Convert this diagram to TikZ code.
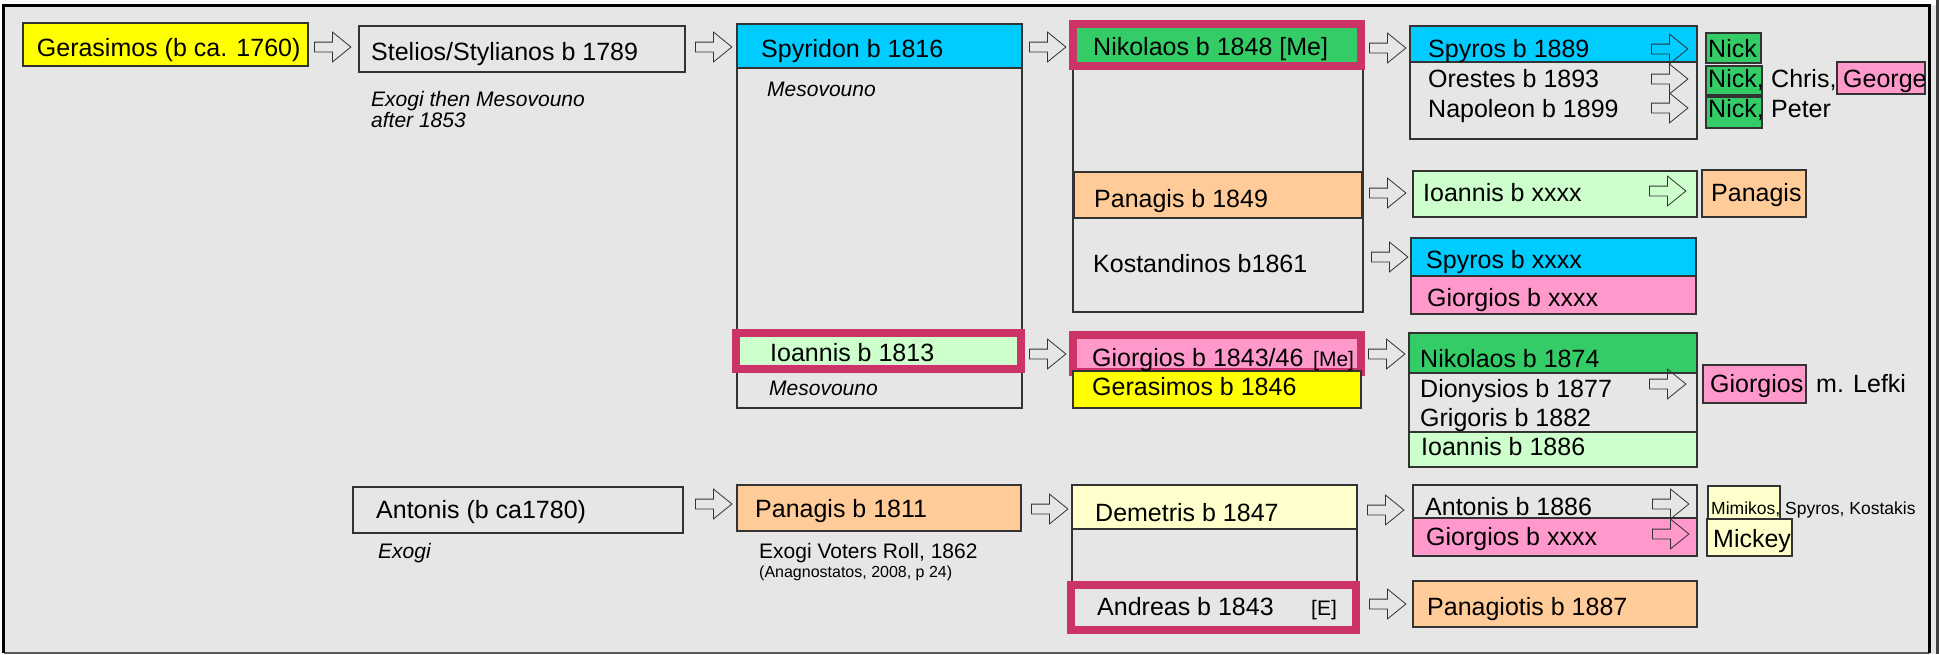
\documentclass[tikz,border=0pt]{standalone}
\usepackage{fontspec}
\setmainfont{Liberation Sans}
\usetikzlibrary{shapes.arrows,fit,calc}
\definecolor{bgc}{HTML}{E6E6E6}
\definecolor{cyanb}{HTML}{00CCFF}
\definecolor{greenb}{HTML}{33CC66}
\definecolor{lgreen}{HTML}{CCFFCC}
\definecolor{peach}{HTML}{FFCC99}
\definecolor{pinkb}{HTML}{FF99CC}
\definecolor{lyellow}{HTML}{FFFFCC}
\definecolor{yellowb}{HTML}{FFFF00}
\definecolor{raspb}{HTML}{CC3366}
\definecolor{edgec}{HTML}{333333}
\tikzset{
  pbox/.style={draw=edgec, line width=1.3pt, inner sep=0pt, outer sep=0pt},
  redframe/.style={draw=raspb, line width=8pt, inner sep=0pt, outer sep=0pt},
  lbl/.style={anchor=base west, inner sep=0pt, font=\fontsize{25}{30}\selectfont},
  note/.style={anchor=base west, inner sep=0pt, font=\fontsize{21}{25}\selectfont\itshape},
  small/.style={anchor=base west, inner sep=0pt, font=\fontsize{21}{25}\selectfont},
  tiny/.style={anchor=base west, inner sep=0pt, font=\fontsize{16}{19}\selectfont},
  mini/.style={anchor=base west, inner sep=0pt, font=\fontsize{17.5}{21}\selectfont},
  barrow/.style={single arrow, draw=edgec, line width=0.8pt, inner xsep=0pt, inner ysep=4.5pt,
    minimum height=36.5pt, single arrow head extend=10pt, single arrow tip angle=78, anchor=tail},
}
% box: [options]{name}{x1}{y1}{x2}{y2}
\newcommand\pbx[6][]{\node[pbox,#1,fit={(#3,#4) (#5,#6)}] (#2) {};}
% red frame
\newcommand\rfr[5]{\node[redframe,fit={(#2,#3) (#4,#5)}] (#1) {};}
% text: [style]{name}{x}{y}{text}
\newcommand\ptx[5][lbl]{\node[#1] (#2) at (#3,#4) {#5};}
% block arrow: {name}{x}{y}
\newcommand\arw[3]{\node[barrow] (#1) at (#2,#3) {};}
\begin{document}
\begin{tikzpicture}[x=1pt,y=-1pt]
\useasboundingbox (0,0) rectangle (1939,654);
% frame
\fill[white] (0,0) rectangle (1939,654);
\fill[bgc] (3.5,5.3) rectangle (1936,654);
\fill[black!75] (1936,0) rectangle (1939,654);
\draw[gray!70!black, line width=1.2pt] (3.5,653) -- (1929,653);
\draw[black, line width=3pt] (3.5,653) -- (3.5,5.3) -- (1929,5.3) -- (1929,653);

% ---- column 1
\pbx[fill=yellowb]{ger}{23}{23}{308}{66}
\pbx{stel}{359}{26}{685}{72}
\pbx{anto}{353}{487}{683}{533}

% ---- column 2
\pbx{spycol}{737}{24}{1022}{408}
\pbx[fill=cyanb]{spyr}{737}{24}{1022}{68}
\pbx[fill=lgreen,draw=none]{ioa13}{740}{337}{1017}{364}
\rfr{ioa13f}{736}{333}{1021}{369}
\pbx[fill=peach]{pan11}{737}{485}{1021}{531}

% ---- column 3
\pbx{nikcol}{1073}{40}{1363}{312}
\pbx[fill=peach]{pan49}{1074}{172}{1362}{218}
\pbx[fill=greenb,draw=none]{nik48}{1077}{28}{1357}{62}
\rfr{nik48f}{1073}{24}{1360.5}{66}
\pbx[fill=pinkb,draw=none]{gio43}{1077}{339}{1357}{369}
\rfr{gio43f}{1073}{335}{1361}{372}
\pbx[fill=yellowb]{ger46}{1073}{371}{1361}{408}
\pbx{demcol}{1072}{485}{1357}{590}
\pbx[fill=lyellow]{dem}{1072}{485}{1357}{529}
\fill[bgc] (1075,589) rectangle (1352,626);
\rfr{andf}{1071}{584.5}{1355.5}{630}

% ---- column 4
\pbx{spygrp}{1410}{26}{1697}{139}
\pbx[fill=cyanb]{spy89}{1410}{26}{1697}{62}
\pbx[fill=lgreen]{ioax}{1413}{171}{1697}{217}
\pbx[fill=cyanb]{spyx}{1411}{238}{1696}{276}
\pbx[fill=pinkb]{giox}{1411}{276}{1696}{314}
\pbx{nikgrp}{1409}{333}{1697}{467}
\pbx[fill=greenb]{nik74}{1409}{333}{1697}{373}
\pbx[fill=lgreen]{ioa86}{1409}{432}{1697}{467}
\pbx{ant86}{1413}{485}{1697}{556}
\pbx[fill=pinkb]{gioxx}{1413}{518}{1697}{556}
\pbx[fill=peach]{panag}{1413}{581}{1697}{627}

% ---- column 5
\pbx[fill=greenb]{nick1}{1706}{33}{1761}{63}
\pbx[fill=greenb]{nick2}{1706}{66}{1762}{95}
\pbx[fill=greenb]{nick3}{1706}{97}{1762}{128}
\pbx[fill=pinkb]{geo}{1837}{62}{1925}{94}
\pbx[fill=peach]{panR}{1702}{170}{1806}{217}
\pbx[fill=pinkb]{gioR}{1703}{365}{1806}{403}
\pbx[fill=lyellow]{mim}{1708}{486}{1780}{519}
\pbx[fill=lyellow]{mick}{1707}{519}{1792}{556}

% ---- texts
\ptx{gert}{36.7}{56}{Gerasimos (b ca. 1760)}
\ptx{stelt}{371}{60}{Stelios/Stylianos b 1789}
\ptx[note]{exo1}{371}{106}{Exogi then Mesovouno}
\ptx[note]{exo2}{371}{127}{after 1853}
\ptx{antot}{376}{518.7}{Antonis (b ca1780)}
\ptx[note]{exo3}{378}{558}{Exogi}

\ptx{spyrt}{761}{57.5}{Spyridon b 1816}
\ptx[note]{meso1}{767}{96}{Mesovouno}
\ptx{ioa13t}{770}{361.3}{Ioannis b 1813}
\ptx[note]{meso2}{769}{395.3}{Mesovouno}
\ptx{pan11t}{755}{517.7}{Panagis b 1811}
\ptx[small]{voters}{759}{558}{Exogi Voters Roll, 1862}
\ptx[tiny]{anag}{759}{577}{(Anagnostatos, 2008, p 24)}

\ptx{nik48t}{1093}{55}{Nikolaos b 1848 [Me]}
\ptx{pan49t}{1094}{207.5}{Panagis b 1849}
\ptx{kost}{1093}{272}{Kostandinos b1861}
\ptx{gio43t}{1092}{366.3}{Giorgios b 1843/46}
\ptx[small]{gio43me}{1313}{366.3}{[Me]}
\ptx{ger46t}{1092}{395.3}{Gerasimos b 1846}
\ptx{demt}{1095}{521.3}{Demetris b 1847}
\ptx{andt}{1097}{615.3}{Andreas b 1843}
\ptx[small]{ande}{1311}{615.3}{[E]}

\ptx{spy89t}{1428}{57.5}{Spyros b 1889}
\ptx{oret}{1428}{87.5}{Orestes b 1893}
\ptx{napt}{1428}{117.5}{Napoleon b 1899}
\ptx{ioaxt}{1423}{201.7}{Ioannis b xxxx}
\ptx{spyxt}{1426}{268}{Spyros b xxxx}
\ptx{gioxt}{1427}{306}{Giorgios b xxxx}
\ptx{nik74t}{1420}{367}{Nikolaos b 1874}
\ptx{diot}{1420}{397}{Dionysios b 1877}
\ptx{grit}{1420}{426.3}{Grigoris b 1882}
\ptx{ioa86t}{1421}{455.3}{Ioannis b 1886}
\ptx{ant86t}{1425}{515.3}{Antonis b 1886}
\ptx{gioxxt}{1426}{545.3}{Giorgios b xxxx}
\ptx{panagt}{1427}{615.3}{Panagiotis b 1887}

\ptx{nick1t}{1708}{57.5}{Nick}
\ptx{nick2t}{1708}{87.5}{Nick,}
\ptx{chris}{1771}{87.5}{Chris,}
\ptx{geot}{1843}{87.5}{George}
\ptx{nick3t}{1708}{117.5}{Nick,}
\ptx{peter}{1771}{117.5}{Peter}
\ptx{panRt}{1711}{201.7}{Panagis}
\ptx{gioRt}{1710}{392}{Giorgios}
\ptx{lefki}{1816}{392}{m. Lefki}
\ptx[mini]{mimt}{1711}{514.3}{Mimikos,}
\ptx[mini]{spk}{1785}{514.3}{Spyros, Kostakis}
\ptx{mickt}{1713}{547.7}{Mickey}

% ---- block arrows
\arw{a1}{314}{47}
\arw{a2}{695}{47}
\arw{a3}{1029}{47}
\arw{a4}{1369}{48}
\arw{a5}{1369}{193}
\arw{a6}{1371}{257}
\arw{n1}{1651}{49}
\arw{n2}{1651}{79}
\arw{n3}{1651}{108}
\arw{a8}{1649}{191}
\arw{a9}{1029}{354}
\arw{a10}{1368}{354}
\arw{a11}{1649}{384}
\arw{a12}{695}{504}
\arw{a13}{1031}{509}
\arw{a14}{1367}{510}
\arw{a15}{1369}{604}
\arw{a16}{1652}{504}
\arw{a17}{1652}{534}
\end{tikzpicture}
\end{document}
